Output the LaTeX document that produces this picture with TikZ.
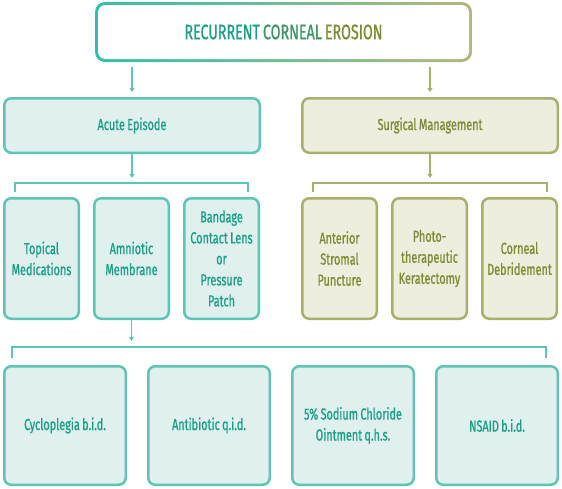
\documentclass[tikz,border=0pt]{standalone}
\usepackage{fontspec}
\setmainfont{Fira Sans}[FakeStretch=0.68,FakeBold=0.8,WordSpace=0.8]
\usetikzlibrary{arrows.meta,positioning,backgrounds}
\definecolor{tealline}{HTML}{5EC4B5}
\definecolor{tealfill}{HTML}{DFF0EE}
\definecolor{tealtext}{HTML}{1A9F87}
\definecolor{oliveline}{HTML}{A9AF6C}
\definecolor{olivefill}{HTML}{EEEEDF}
\definecolor{olivetext}{HTML}{7D8B33}
\definecolor{gradleft}{HTML}{30C0AC}
\definecolor{gradright}{HTML}{B4B77E}
\definecolor{titlemid}{HTML}{3D9663}

\begin{document}
\begin{tikzpicture}[x=1pt,y=1pt,
node distance=13pt,
tbox/.style={draw=tealline,fill=tealfill,text=tealtext,line width=2.5pt,rounded corners=7pt,
inner sep=2pt,align=flush center,font=\fontsize{16}{21}\selectfont},
obox/.style={tbox,draw=oliveline,fill=olivefill,text=olivetext},
head/.style={minimum width=255.5pt,minimum height=54.5pt},
tall/.style={minimum width=74.5pt,minimum height=120.5pt,text width=68pt},
low/.style={minimum width=121.5pt,minimum height=118.5pt,text width=115pt},
tarr/.style={draw=tealline,line width=1.3pt,-{Triangle[length=4pt,width=5pt]}},
oarr/.style={tarr,draw=oliveline},
tline/.style={draw=tealline,line width=1.3pt},
oline/.style={tline,draw=oliveline}
]
\useasboundingbox (0,0) rectangle (562,-488);
\node[minimum width=377pt,minimum height=60pt,outer sep=0pt,font=\fontsize{21}{22}\selectfont] (rce) at (283.5,-32)
{\textcolor{tealtext}{RECURRENT} \textcolor{titlemid}{CORNEAL} \textcolor{olivetext}{EROSION}};
\begin{scope}[on background layer]
\shade[left color=gradleft,right color=gradright,rounded corners=10pt] (rce.north west) rectangle (rce.south east);
\fill[white,rounded corners=7.5pt] ([shift={(3,-3)}]rce.north west) rectangle ([shift={(-3,3)}]rce.south east);
\end{scope}

\node[tbox,head] (acute) at (132,-125.5) {Acute Episode};
\node[obox,head,right=40pt of acute] (surg) {Surgical Management};

\node[tbox,tall,below=43pt of acute.south west,anchor=north west] (topical) {Topical\\Medications};
\node[tbox,tall,right=of topical] (amnio) {Amniotic\\Membrane};
\node[tbox,tall,right=of amnio] (bandage) {Bandage\\Contact Lens\\or\\Pressure\\Patch};

\node[obox,tall,below=43pt of surg.south west,anchor=north west] (stromal) {Anterior\\Stromal\\Puncture};
\node[obox,tall,right=of stromal] (ptk) {Photo-\\therapeutic\\Keratectomy};
\node[obox,tall,right=of ptk] (debride) {Corneal\\Debridement};

\node[tbox,low,below=45pt of topical.south west,anchor=north west] (cyclo) {Cycloplegia b.i.d.};
\node[tbox,low,right=20pt of cyclo] (abx) {Antibiotic q.i.d.};
\node[tbox,low,right=20pt of abx] (nacl) {5\% Sodium Chloride\\Ointment q.h.s.};
\node[tbox,low,right=20pt of nacl] (nsaid) {NSAID b.i.d.};

\coordinate (acutebr) at ([yshift=14pt]topical.north -| acute.south);
\coordinate (surgbr) at ([yshift=14pt]stromal.north -| surg.south);
\coordinate (amniobr) at ([yshift=18pt]cyclo.north -| amnio.south);

\draw[tarr,shorten <=5pt,shorten >=5pt] (rce.south -| acute.north) -- (acute.north);
\draw[oarr,shorten <=5pt,shorten >=5pt] (rce.south -| surg.north) -- (surg.north);
\draw[tarr,shorten >=5pt] (acute.south) -- (acutebr);
\draw[oarr,shorten >=5pt] (surg.south) -- (surgbr);
\draw[tarr,shorten >=6pt] (amnio.south) -- (amniobr);

\draw[tline] ([xshift=12pt,yshift=5pt]topical.north west) |- (acutebr) -| ([xshift=-12pt,yshift=5pt]bandage.north east);
\draw[oline] ([xshift=12pt,yshift=5pt]stromal.north west) |- (surgbr) -| ([xshift=-11pt,yshift=5pt]debride.north east);
\draw[tline] ([xshift=9pt,yshift=7pt]cyclo.north west) |- (amniobr) -| ([xshift=-13pt,yshift=7pt]nsaid.north east);
\end{tikzpicture}
\end{document}
